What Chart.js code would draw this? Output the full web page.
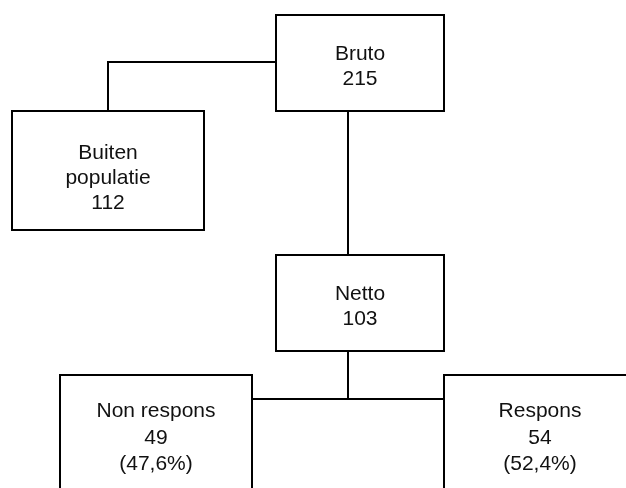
<!DOCTYPE html>
<html>
<head>
<meta charset="utf-8">
<script src="https://cdn.jsdelivr.net/npm/chart.js@4/dist/chart.umd.min.js"></script>
<style>
  html, body { margin: 0; padding: 0; background: #fff; overflow: hidden; }
  #frame { width: 626px; height: 488px; overflow: hidden; position: relative; }
  #wrap { width: 640px; height: 500px; position: absolute; left: 0; top: 0; }
</style>
</head>
<body>
<div id="frame"><div id="wrap"><canvas id="flow"></canvas></div></div>
<script>
// stroomschema respons: namen, aantallen, percentages
const nodeNames = [['Bruto'], ['Buiten', 'populatie'], ['Netto'], ['Non respons'], ['Respons']];
const nodeCounts = [215, 112, 103, 49, 54];
const nodeShares = [null, null, null, '47,6%', '52,4%'];

// layout in pixel units (x0, x1, y0, y1, first baseline, line step)
// the two bottom boxes run past the visible 626x488 frame
const boxes = [
  [276, 444, 15, 111, 60, 25],
  [12, 204, 111, 230, 159, 25],
  [276, 444, 255, 351, 300, 25],
  [60, 252, 375, 497, 417, 26.5],
  [444, 636, 375, 497, 417, 26.5]
];
const connectors = [
  [[276, 62], [108, 62], [108, 111]],
  [[348, 111], [348, 255]],
  [[348, 351], [348, 399]],
  [[252, 399], [444, 399]]
];

const lineStyle = {
  type: 'line',
  borderColor: '#000',
  borderWidth: 2,
  pointRadius: 0,
  tension: 0,
  fill: false,
  borderJoinStyle: 'miter',
  borderCapStyle: 'square'
};

const datasets = [];
boxes.forEach(b => {
  datasets.push(Object.assign({}, lineStyle, {
    data: [
      { x: b[0], y: b[2] }, { x: b[1], y: b[2] },
      { x: b[1], y: b[3] }, { x: b[0], y: b[3] }, { x: b[0], y: b[2] }
    ]
  }));
});
connectors.forEach(c => {
  datasets.push(Object.assign({}, lineStyle, {
    borderCapStyle: 'butt',
    data: c.map(p => ({ x: p[0], y: p[1] }))
  }));
});

const labelPlugin = {
  id: 'nodeLabels',
  afterDatasetsDraw(chart) {
    const ctx = chart.ctx;
    const xs = chart.scales.x;
    const ys = chart.scales.y;
    ctx.save();
    ctx.fillStyle = '#111';
    ctx.font = '21px "Liberation Sans", Arial, sans-serif';
    ctx.textAlign = 'center';
    ctx.textBaseline = 'alphabetic';
    nodeNames.forEach((name, i) => {
      const b = boxes[i];
      const lines = name.slice();
      lines.push(String(nodeCounts[i]));
      if (nodeShares[i]) lines.push('(' + nodeShares[i] + ')');
      const cx = xs.getPixelForValue((b[0] + b[1]) / 2);
      lines.forEach((t, k) => {
        ctx.fillText(t, cx, ys.getPixelForValue(b[4] + k * b[5]));
      });
    });
    ctx.restore();
  }
};

new Chart(document.getElementById('flow'), {
  type: 'scatter',
  data: { datasets: datasets },
  options: {
    responsive: true,
    maintainAspectRatio: false,
    animation: false,
    parsing: false,
    layout: { padding: 0 },
    scales: {
      x: { type: 'linear', min: 0, max: 640, display: false },
      y: { type: 'linear', min: 0, max: 500, reverse: true, display: false }
    },
    plugins: {
      legend: { display: false },
      tooltip: { enabled: false }
    }
  },
  plugins: [labelPlugin]
});
</script>
</body>
</html>
